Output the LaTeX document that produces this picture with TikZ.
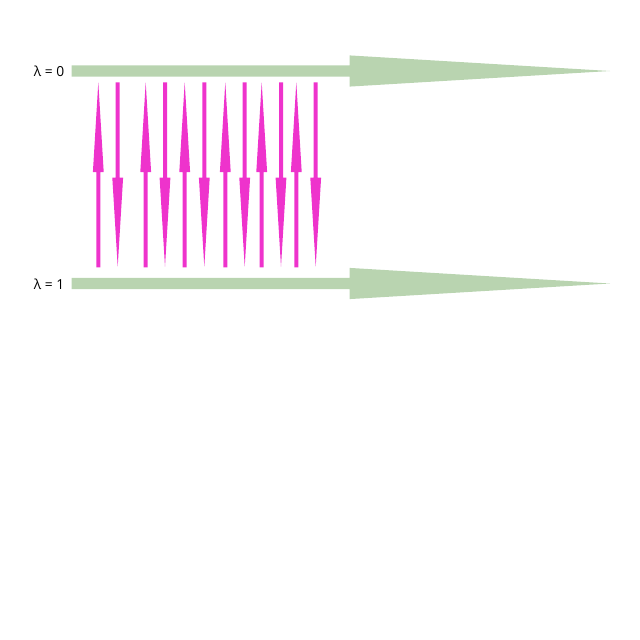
\documentclass[tikz,border=0pt]{standalone}
\usepackage{fontspec}
\setmainfont{Open Sans}
\definecolor{bargreen}{HTML}{B9D4B0}
\definecolor{mag}{HTML}{EE33CC}
\tikzset{
  lbl/.style={font=\fontsize{13.8}{15}\selectfont, inner sep=0pt, anchor=east},
  bigarrow/.style={fill=bargreen, draw=none},
  smallarrow/.style={fill=mag, draw=none}
}
\begin{document}
\begin{tikzpicture}[x=1pt,y=-1pt]
\useasboundingbox (0,0) rectangle (640,640);
% big green arrows
\foreach \yc/\nm in {71/top,283.5/bot}{
  \coordinate (\nm start) at (71.5,\yc);
  \coordinate (\nm tip) at (610,\yc);
  \fill[bigarrow] (71.5,\yc-5.7) -- (349.5,\yc-5.7) -- (349.5,\yc-15.6) -- (610,\yc)
     -- (349.5,\yc+15.6) -- (349.5,\yc+5.7) -- (71.5,\yc+5.7) -- cycle;
}
\node[lbl] (l0) at (64.5,71.5) {λ = 0};
\node[lbl] (l1) at (64.5,284) {λ = 1};
% upward arrows
\foreach \xx in {98.3,145.7,184.7,225.3,261.7,296.3}{
  \fill[smallarrow] (\xx-2,267.3) -- (\xx+2,267.3) -- (\xx+2,172) -- (\xx+5.4,172)
     -- (\xx,82.3) -- (\xx-5.4,172) -- (\xx-2,172) -- cycle;
}
% downward arrows
\foreach \xx in {117.7,165,204.3,244.7,281,315.7}{
  \fill[smallarrow] (\xx-2,82.3) -- (\xx+2,82.3) -- (\xx+2,177.7) -- (\xx+5.4,177.7)
     -- (\xx,266.7) -- (\xx-5.4,177.7) -- (\xx-2,177.7) -- cycle;
}
\end{tikzpicture}
\end{document}
